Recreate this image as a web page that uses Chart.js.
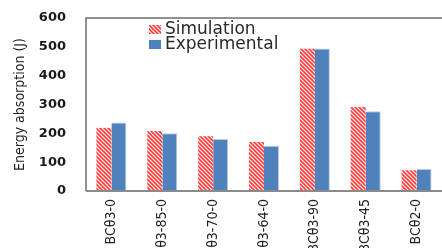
<!DOCTYPE html>
<html>
<head>
<meta charset="utf-8">
<script src="https://cdn.jsdelivr.net/npm/chart.js@4"></script>
<style>
  html, body { margin: 0; padding: 0; background: #fff; overflow: hidden; }
  #wrap { width: 442px; height: 248px; }
</style>
</head>
<body>
<div id="wrap"><canvas id="chart" width="442" height="248"></canvas></div>
<script>
// Energy absorption per specimen
const categories = ['BCθ3-0', 'BCθ3-85-0', 'BCθ3-70-0', 'BCθ3-64-0', 'BCθ3-90', 'BCθ3-45', 'BCθ2-0'];
const simulation = [219, 208, 190, 170, 493, 291, 72];
const experimental = [238, 200, 180, 157, 494, 277, 76];
const yTicks = [0, 100, 200, 300, 400, 500, 600];

// red diagonal hatch for the simulation bars
function makeHatch() {
  const c = document.createElement('canvas');
  c.width = 4; c.height = 4;
  const g = c.getContext('2d');
  g.fillStyle = '#fff3f3';
  g.fillRect(0, 0, 4, 4);
  g.strokeStyle = '#ff3c3c';
  g.lineWidth = 1.6;
  g.beginPath();
  g.moveTo(-1, -1); g.lineTo(5, 5);
  g.moveTo(-1, 3); g.lineTo(1, 5);
  g.moveTo(3, -1); g.lineTo(5, 1);
  g.stroke();
  return g.createPattern(c, 'repeat');
}
const hatch = makeHatch();

const condensed = '"DejaVu Sans Condensed", "Liberation Sans Narrow", sans-serif';

// frame round the plot + legend in the top-left of the plot
const framePlugin = {
  id: 'frame',
  afterDraw(chart) {
    const { ctx, chartArea: a } = chart;
    ctx.save();
    ctx.strokeStyle = '#6e6e6e';
    ctx.lineWidth = 1.5;
    ctx.beginPath();
    ctx.moveTo(a.left, a.bottom);
    ctx.lineTo(a.left, a.top);
    ctx.lineTo(a.right, a.top);
    ctx.stroke();
    ctx.strokeStyle = '#8a8a8a';
    ctx.lineWidth = 2;
    ctx.beginPath();
    ctx.moveTo(a.left, a.bottom);
    ctx.lineTo(a.right, a.bottom);
    ctx.stroke();

    // legend
    const items = [
      { label: chart.data.datasets[0].label, fill: hatch },
      { label: chart.data.datasets[1].label, fill: '#4f81bd' },
    ];
    ctx.font = '17px "DejaVu Sans", sans-serif';
    ctx.textBaseline = 'middle';
    items.forEach((it, i) => {
      const y = 29 + i * 15;
      ctx.fillStyle = it.fill;
      ctx.fillRect(149, y - 4, 12, 9);
      ctx.fillStyle = '#2a2a2a';
      ctx.fillText(it.label, 165, y + 1);
    });
    ctx.restore();
  }
};

new Chart(document.getElementById('chart'), {
  type: 'bar',
  data: {
    labels: categories,
    datasets: [
      {
        label: 'Simulation',
        data: simulation,
        backgroundColor: hatch,
        borderWidth: 0,
      },
      {
        label: 'Experimental',
        data: experimental,
        backgroundColor: '#4f81bd',
        borderColor: '#b8cce4',
        borderWidth: { top: 1, left: 0, right: 1, bottom: 0 },
      },
    ],
  },
  options: {
    responsive: false,
    animation: false,
    layout: { padding: { left: 6, top: 18, right: 0, bottom: 0 } },
    plugins: {
      legend: { display: false },
      tooltip: { enabled: false },
    },
    datasets: {
      bar: { barPercentage: 1.0, categoryPercentage: 0.59 },
    },
    scales: {
      x: {
        grid: { display: false, drawTicks: false },
        border: { display: false },
        ticks: {
          autoSkip: false,
          maxRotation: 90,
          minRotation: 90,
          padding: 8,
          color: '#222',
          font: { family: condensed, size: 14 },
        },
        afterFit(scale) { scale.height = 57; },
      },
      y: {
        min: 0,
        max: 600,
        afterBuildTicks(scale) { scale.ticks = yTicks.map(v => ({ value: v })); },
        grid: { display: false, drawTicks: false },
        border: { display: false },
        ticks: {
          padding: 20,
          color: '#1a1a1a',
          font: { family: '"DejaVu Sans", Verdana, sans-serif', size: 13, weight: 700 },
        },
        title: {
          display: true,
          text: 'Energy absorption (J)',
          color: '#222',
          padding: { top: 6, bottom: 0 },
          font: { family: condensed, size: 14 },
        },
        afterFit(scale) {
          scale.width = 80;
          scale.paddingTop = 0;
          scale.paddingBottom = 0;
        },
      },
    },
  },
  plugins: [framePlugin],
});
</script>
</body>
</html>
